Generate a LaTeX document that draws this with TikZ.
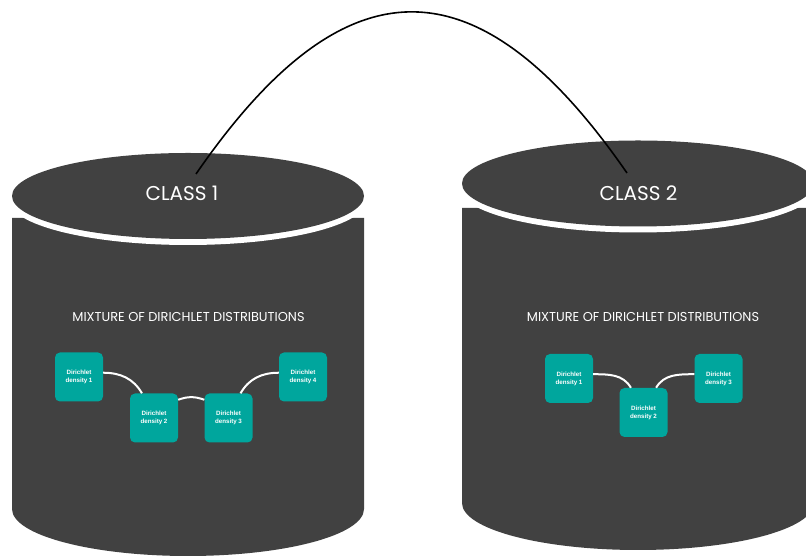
\documentclass[tikz,border=0pt]{standalone}
\usepackage{fontspec}
\newfontfamily\titlefont{Poppins}
\newfontfamily\boxfont{Liberation Sans}
\definecolor{cylgray}{RGB}{65,65,65}
\definecolor{densteal}{RGB}{0,166,157}
\begin{document}
\begin{tikzpicture}[x=1pt,y=1pt,
  density/.style={fill=densteal,rounded corners=5pt,minimum width=48pt,minimum height=49pt,
    inner sep=0pt,align=center,text=white,font=\boxfont\bfseries\fontsize{6.2}{8}\selectfont},
  link/.style={white,line width=2pt},
  classname/.style={text=white,font=\titlefont\fontsize{20}{24}\selectfont},
  mixname/.style={text=white,font=\titlefont\fontsize{12.9}{15}\selectfont}]%{{{
\useasboundingbox (0,0) rectangle (806,556);
%
% Cylindres
\foreach \cx/\top/\cy/\bot in {188/338/360/47, 638/348/372.5/53} {
  \fill [cylgray] (\cx-176,\top) -- (\cx-176,\bot)
        arc [start angle=180,end angle=360,x radius=176,y radius=47]
        -- (\cx+176,\top) -- cycle;
  \fill [white]   (\cx,\cy-4) ellipse [x radius=179,y radius=45];
  \fill [cylgray] (\cx,\cy)   ellipse [x radius=176,y radius=43];
}
%
% Titres
\node [classname] (class1) at (182,363)   {CLASS 1};
\node [classname] (class2) at (638.5,363) {CLASS 2};
\node [mixname]   (mix1)   at (188.5,239) {MIXTURE OF DIRICHLET DISTRIBUTIONS};
\node [mixname]   (mix2)   at (643,239)   {MIXTURE OF DIRICHLET DISTRIBUTIONS};
%
% Lien entre classes
\coordinate (arcL) at (196,382);
\coordinate (arcR) at (627,383);
\draw [line width=1.6pt] (arcL) .. controls (345,598) and (478,598) .. (arcR);
%
% Classe 1
\node [density] (d1) at (79,179)    {Dirichlet\\density 1};
\node [density] (d2) at (154,138)   {Dirichlet\\density 2};
\node [density] (d3) at (228.5,138) {Dirichlet\\density 3};
\node [density] (d4) at (303,179)   {Dirichlet\\density 4};
\draw [link] (d1.10) to[out=0,in=120]   (d2.116);
\draw [link] (d2.37) to[out=20,in=160]  (d3.143);
\draw [link] (d3.64) to[out=60,in=180]  (d4.170);
%
% Classe 2
\node [density] (e1) at (569,177.5)   {Dirichlet\\density 1};
\node [density] (e2) at (643.5,143.5) {Dirichlet\\density 2};
\node [density] (e3) at (718.5,177.5) {Dirichlet\\density 3};
\draw [link] (e1.10) to[out=0,in=120]  (e2.117);
\draw [link] (e2.63) to[out=60,in=180] (e3.170);
%
\end{tikzpicture}
\end{document}
